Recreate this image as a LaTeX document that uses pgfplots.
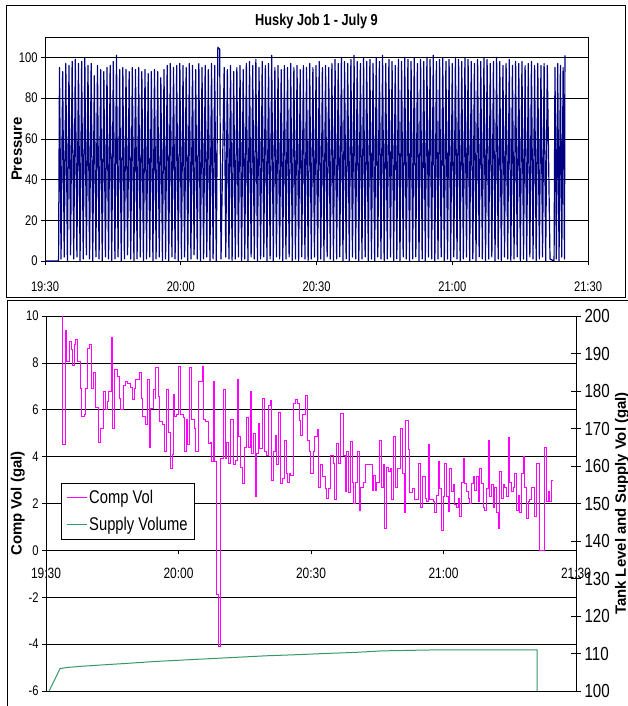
\documentclass[border=0pt]{standalone}
\usepackage{pgfplots}
\pgfplotsset{compat=1.18}
\usepackage{fontspec}
\setmainfont{Liberation Sans}[FakeStretch=0.8]
\newfontfamily\labfont{Liberation Sans}
\definecolor{pnavy}{RGB}{0,0,128}
\definecolor{cmag}{RGB}{255,0,255}
\definecolor{sgreen}{RGB}{51,153,102}
\begin{document}
\begin{tikzpicture}[x=1bp,y=1bp]
\path[use as bounding box] (0,0) rectangle (628,-706);
\draw[line width=0.8bp] (6,-5) rectangle (625,-297);
\draw[line width=0.8bp] (7,-300) rectangle (660,-740);
% ---------------- top panel ----------------
\begin{axis}[
  at={(45bp,-261bp)}, anchor=south west, scale only axis,
  width=543bp, height=224bp,
  xmin=0, xmax=120, ymin=0, ymax=110,
  xtick={0,30,60,90,120}, xticklabels={19:30,20:00,20:30,21:00,21:30},
  ytick={0,20,...,100},
  ymajorgrids, grid style={black, line width=0.6bp},
  axis line style={line width=0.8bp},
  tick align=outside, xtick pos=bottom, ytick pos=left, major tick length=4bp,
  tick style={black, line width=0.6bp},
  /pgf/number format/assume math mode=true,
  xticklabel style={font=\fontsize{14}{16}\selectfont, yshift=-13bp},
  yticklabel style={font=\fontsize{14}{16}\selectfont},
  title={Husky Job 1 - July 9},
  title style={font=\bfseries\fontsize{16}{18}\selectfont, at={(axis description cs:0.5,1)}, anchor=base, yshift=6bp},
  ylabel={Pressure},
  ylabel style={font=\labfont\bfseries\fontsize{15}{17}\selectfont, at={(axis description cs:-0.052,0.5)}, anchor=center, rotate=0},
]
\addplot[draw=pnavy, line width=1.2bp, line join=round] coordinates {
(0,0) (3.0,0)
(3.2,95) (3.55,1) (3.9,93) (4.25,2) (4.6,97) (4.95,0) (5.3,96) (5.65,3)
(6.0,98) (6.35,1) (6.7,99) (7.05,2) (7.4,97) (7.75,0) (8.1,98) (8.45,1)
(8.8,100) (9.15,3) (9.5,96) (9.85,1) (10.2,97) (10.55,0) (10.9,91) (11.25,2)
(11.6,96) (11.95,1) (12.3,94) (12.65,0) (13.0,93) (13.35,2) (13.7,95) (14.05,1)
(14.4,96) (14.75,0) (15.1,98) (15.45,1) (15.8,101) (16.15,2) (16.5,94) (16.85,0)
(17.2,95) (17.55,1) (17.9,94) (18.25,3) (18.6,93) (18.95,1) (19.3,95) (19.65,0)
(20.0,94) (20.35,1) (20.7,95) (21.05,2) (21.4,93) (21.75,0) (22.1,94) (22.45,1)
(22.8,92) (23.15,2) (23.5,93) (23.85,0) (24.2,94) (24.55,1) (24.9,93) (25.25,2)
(25.6,90) (25.95,0) (26.3,94) (26.65,1) (27.0,96) (27.35,0) (27.7,97) (28.05,2)
(28.4,95) (28.75,1) (29.1,96) (29.45,0) (29.8,97) (30.15,1) (30.5,96) (30.85,2)
(31.2,95) (31.55,0) (31.9,97) (32.25,1) (32.6,96) (32.95,3) (33.3,94) (33.65,1)
(34.0,97) (34.35,0) (34.7,95) (35.05,1) (35.4,96) (35.75,2) (36.1,94) (36.45,0)
(36.8,97) (37.15,1) (37.5,96) (37.85,0) (38.2,105) (38.6,104) (38.9,1)
(39.6,95) (39.95,2) (40.3,94) (40.65,1) (41.0,96) (41.35,0) (41.7,93) (42.05,1)
(42.4,95) (42.75,2) (43.1,96) (43.45,0) (43.8,94) (44.15,1) (44.5,97) (44.85,0)
(45.2,98) (45.55,2) (45.9,96) (46.25,1) (46.6,99) (46.95,0) (47.3,95) (47.65,1)
(48.0,98) (48.35,2) (48.7,96) (49.05,0) (49.4,97) (49.75,1) (50.1,101) (50.45,0)
(50.8,95) (51.15,2) (51.5,96) (51.85,1) (52.2,94) (52.55,0) (52.9,96) (53.25,1)
(53.6,95) (53.95,2) (54.3,97) (54.65,0) (55.0,95) (55.35,1) (55.7,96) (56.05,0)
(56.4,94) (56.75,2) (57.1,96) (57.45,1) (57.8,95) (58.15,0) (58.5,97) (58.85,1)
(59.2,95) (59.55,2) (59.9,96) (60.25,0) (60.6,98) (60.95,1) (61.3,95) (61.65,0)
(62.0,96) (62.35,2) (62.7,95) (63.05,1) (63.4,97) (63.75,0) (64.1,99) (64.45,1)
(64.8,97) (65.15,2) (65.5,100) (65.85,0) (66.2,98) (66.55,1) (66.9,97) (67.25,0)
(67.6,99) (67.95,2) (68.3,101) (68.65,1) (69.0,98) (69.35,0) (69.7,97) (70.05,1)
(70.4,100) (70.75,2) (71.1,98) (71.45,0) (71.8,99) (72.15,1) (72.5,97) (72.85,0)
(73.2,100) (73.55,2) (73.9,98) (74.25,1) (74.6,101) (74.95,0) (75.3,97) (75.65,1)
(76.0,99) (76.35,2) (76.7,98) (77.05,0) (77.4,96) (77.75,1) (78.1,99) (78.45,0)
(78.8,98) (79.15,2) (79.5,100) (79.85,1) (80.2,99) (80.55,0) (80.9,98) (81.25,1)
(81.6,100) (81.95,2) (82.3,97) (82.65,0) (83.0,99) (83.35,1) (83.7,98) (84.05,0)
(84.4,100) (84.75,2) (85.1,99) (85.45,1) (85.8,101) (86.15,0) (86.5,98) (86.85,1)
(87.2,99) (87.55,2) (87.9,100) (88.25,0) (88.6,98) (88.95,1) (89.3,99) (89.65,0)
(90.0,97) (90.35,2) (90.7,100) (91.05,1) (91.4,99) (91.75,0) (92.1,98) (92.45,1)
(92.8,100) (93.15,2) (93.5,99) (93.85,0) (94.2,98) (94.55,1) (94.9,97) (95.25,0)
(95.6,99) (95.95,2) (96.3,98) (96.65,1) (97.0,100) (97.35,0) (97.7,99) (98.05,1)
(98.4,97) (98.75,2) (99.1,98) (99.45,0) (99.8,100) (100.15,1) (100.5,98) (100.85,0)
(101.2,96) (101.55,2) (101.9,97) (102.25,1) (102.6,99) (102.95,0) (103.3,96) (103.65,1)
(104.0,98) (104.35,2) (104.7,97) (105.05,0) (105.4,98) (105.75,1) (106.1,96) (106.45,0)
(106.8,97) (107.15,2) (107.5,98) (107.85,1) (108.2,96) (108.55,0) (108.9,97) (109.25,1)
(109.6,96) (109.95,2) (110.3,97) (110.65,0) (111.0,96) (111.6,1) (112.5,0)
(112.7,95) (113.0,1) (113.3,97) (113.6,0) (113.9,96) (114.2,2) (114.5,95) (114.8,1)
(114.9,101)
};
\end{axis}
% ---------------- bottom panel, left axis ----------------
\begin{axis}[
  at={(46bp,-691bp)}, anchor=south west, scale only axis,
  width=530bp, height=375bp,
  xmin=0, xmax=120, ymin=-6, ymax=10,
  axis x line=middle, axis y line=left,
  hide obscured x ticks=false, hide obscured y ticks=false,
  axis line style={-, line width=0.8bp},
  xtick={0,30,60,90,120}, xticklabels={19:30,20:00,20:30,21:00,21:30},
  ytick={-6,-4,...,10},
  ymajorgrids, grid style={black, line width=0.6bp},
  tick align=outside, major tick length=4bp,
  tick style={black, line width=0.6bp},
  /pgf/number format/assume math mode=true,
  xticklabel style={font=\fontsize{15}{17}\selectfont, anchor=north, yshift=-10bp},
  yticklabel style={font=\fontsize{14}{16}\selectfont},
  ylabel={Comp Vol (gal)},
  ylabel style={font=\labfont\bfseries\fontsize{15}{17}\selectfont, at={(axis description cs:-0.053,0.5)}, anchor=center, rotate=0},
  legend style={at={(axis description cs:0.028,0.555)}, anchor=north west,
    font=\fontsize{18.5}{20}\selectfont, draw=black, line width=0.8bp,
    inner xsep=5bp, inner ysep=5bp, row sep=8bp},
  legend cell align=left,
  legend image code/.code={\draw[#1, line width=1bp] (0bp,0bp) -- (20bp,0bp);},
]
\addplot[draw=cmag, line width=1bp, const plot] coordinates {
(3.7,10) (3.8,4.5) (4.38,9.4) (4.68,8.05) (5.28,8.9) (5.74,8.55) (5.96,7.9) (6.34,8.8)
(6.79,9.0) (7.17,8.05) (7.70,6.9) (8.07,5.7) (8.68,5.8) (8.98,6.9) (9.43,8.6) (9.96,8.8)
(10.34,6.9) (10.71,7.6) (11.24,6.1) (11.85,4.6) (12.45,5.2) (13.05,6.8) (13.51,6.0) (13.88,6.35)
(14.26,6.8) (14.72,9.1) (15.10,5.2) (15.47,7.7) (16.23,7.4) (16.60,6.5) (16.98,6.0) (17.51,7.05)
(18.11,7.2) (18.49,7.1) (19.02,6.95) (19.62,6.45) (20.0,6.9) (20.30,7.3) (21.06,7.6) (21.51,6.5)
(21.89,5.7) (22.42,5.35) (23.02,7.3) (23.32,4.4) (23.70,6.05) (24.30,6.85) (24.68,6.5) (24.90,7.8)
(25.43,6.55) (25.81,5.5) (26.34,5.35) (26.72,5.2) (26.94,4.2) (27.32,6.85) (27.70,5.05) (28.22,3.5)
(28.53,4.1) (28.83,6.65) (29.20,5.7) (29.58,5.8) (30.11,7.85) (30.56,5.8) (31.09,5.65) (31.47,4.2)
(31.84,5.6) (32.07,4.5) (32.60,7.8) (32.98,5.6) (33.51,5.2) (33.96,4.2) (34.49,7.2) (35.40,7.85)
(35.77,5.6) (36.15,5.5) (36.75,4.55) (37.28,4.6) (37.51,3.8) (37.96,7.2) (38.26,3.8) (38.49,-0.9)
(38.7,-1.9) (39.0,-4.1) (39.55,3.9) (40.15,6.85) (40.53,3.9) (40.9,4.6) (41.28,3.7) (41.66,5.6)
(42.41,3.65) (42.8,3.85) (43.32,7.3) (43.55,4.85) (44.08,3.55) (44.53,2.85) (44.98,4.4) (45.43,5.65)
(45.81,4.4) (46.19,6.8) (46.57,4.15) (46.94,5.0) (47.32,2.3) (47.70,4.15) (48.07,5.4) (48.45,4.35)
(48.98,6.5) (49.36,4.2) (49.81,4.05) (50.34,6.2) (50.72,6.4) (51.09,3.0) (51.47,4.2) (51.85,4.9)
(52.23,3.65) (52.75,5.9) (53.13,2.85) (53.51,3.05) (53.96,4.7) (54.34,3.3) (54.72,2.9) (55.09,3.3)
(55.47,3.2) (56.0,6.25) (56.45,6.45) (56.98,6.25) (57.36,5.55) (57.66,4.9) (58.11,5.8) (58.64,6.6)
(59.17,4.7) (59.55,4.2) (59.92,3.3) (60.53,4.2) (60.90,4.85) (61.43,5.15) (61.66,2.7) (62.04,3.65)
(62.64,3.15) (63.17,2.65) (63.55,2.2) (63.92,2.65) (64.45,4.05) (65.06,3.7) (65.43,2.15) (65.81,4.55)
(66.26,3.7) (66.79,5.85) (67.32,4.05) (67.70,2.5) (68.07,4.2) (68.45,2.45) (68.83,4.65) (69.36,2.9)
(69.73,2.0) (70.11,2.9) (70.49,4.2) (70.87,1.7) (71.24,2.7) (71.85,2.9) (72.38,3.65) (73.89,2.55)
(74.26,3.2) (74.64,2.55) (74.87,2.9) (75.40,4.7) (76.0,2.7) (76.38,3.65) (76.75,0.95) (77.13,3.55)
(77.51,3.35) (77.89,3.5) (78.26,2.15) (78.64,4.85) (79.02,2.7) (79.62,3.5) (80.15,5.2) (80.75,3.3)
(81.13,1.6) (81.43,5.55) (82.04,4.3) (82.41,2.45) (82.94,2.65) (83.39,2.15) (84.30,3.7) (84.68,3.0)
(84.90,1.85) (85.28,3.15) (85.81,2.2) (86.19,2.1) (86.56,4.5) (86.93,2.15) (87.69,2.1) (88.07,1.6)
(88.44,2.35) (88.82,3.8) (89.20,2.65) (89.58,0.85) (89.95,2.3) (90.33,3.7) (90.71,2.3) (91.08,1.65)
(91.46,3.5) (91.84,2.5) (92.22,2.8) (92.59,1.95) (92.97,1.85) (93.35,2.2) (93.73,1.45) (94.10,2.9)
(94.48,3.9) (94.86,2.85) (95.24,2.5) (95.61,2.2) (95.99,2.0) (96.37,2.85) (96.75,3.15) (97.12,2.55)
(97.50,3.15) (97.88,2.1) (98.25,3.5) (98.63,2.85) (99.01,1.85) (99.39,1.7) (99.76,2.65) (100.14,4.7)
(100.52,2.3) (100.90,2.8) (101.27,1.85) (101.65,2.7) (102.03,1.6) (102.41,0.95) (102.78,3.35) (103.16,2.2)
(103.54,2.8) (103.92,2.7) (104.29,2.3) (104.67,4.8) (105.05,2.9) (105.42,2.5) (105.80,2.7) (106.18,3.3)
(106.56,1.7) (106.93,2.35) (107.31,1.6) (107.69,3.3) (108.07,4.0) (108.44,2.7) (108.82,1.35) (109.20,2.1)
(109.58,2.15) (109.95,2.7) (110.71,1.45) (111.09,3.7) (111.69,0) (112.97,4.4) (113.35,2.1) (113.73,2.5)
(114.10,2.1) (114.48,3.0) (114.71,3.0)
};
\addlegendentry{Comp Vol}
\addlegendimage{draw=sgreen}
\addlegendentry{Supply Volume}
\end{axis}
% ---------------- bottom panel, right axis ----------------
\begin{axis}[
  at={(46bp,-691bp)}, anchor=south west, scale only axis,
  width=530bp, height=375bp,
  xmin=0, xmax=120, ymin=100, ymax=200,
  axis y line=right, axis x line=none,
  axis line style={-, line width=0.8bp},
  ytick={100,110,...,200},
  tick align=center, major tick length=10bp,
  tick style={black, line width=0.6bp},
  /pgf/number format/assume math mode=true,
  yticklabel style={font=\fontsize{19}{21}\selectfont},
  ylabel={Tank Level and Supply Vol (gal)},
  ylabel style={font=\labfont\bfseries\fontsize{15}{17}\selectfont, at={(axis description cs:1.087,0.5)}, anchor=center, rotate=0},
]
\addplot[draw=sgreen, line width=1bp] coordinates {
(0.7,100) (3.2,106.0) (5,106.3) (8,106.6) (12,106.9) (16,107.2) (20,107.5) (25,107.9)
(30,108.2) (35,108.5) (40,108.8) (45,109.1) (50,109.4) (57,109.7) (63,110.0) (70,110.3)
(76,110.7) (85,110.9) (90,111.0) (111.2,111.0) (111.2,100)
};
\end{axis}
\end{tikzpicture}
\end{document}
